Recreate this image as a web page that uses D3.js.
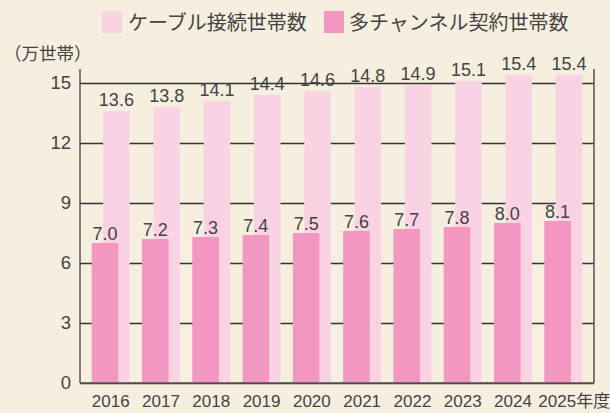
<!DOCTYPE html>
<html>
<head>
<meta charset="utf-8">
<script src="https://cdn.jsdelivr.net/npm/d3@7"></script>
<style>
  html, body { margin: 0; padding: 0; background: #f6efe0; }
  svg { display: block; font-family: "Liberation Sans", Arial, "Noto Sans CJK JP", sans-serif; }
</style>
</head>
<body>
<div id="chart"></div>
<script>
// データ（万世帯）
const years = ['2016', '2017', '2018', '2019', '2020', '2021', '2022', '2023', '2024', '2025'];
const cableHouseholds = [13.6, 13.8, 14.1, 14.4, 14.6, 14.8, 14.9, 15.1, 15.4, 15.4];
const multiChannelHouseholds = [7.0, 7.2, 7.3, 7.4, 7.5, 7.6, 7.7, 7.8, 8.0, 8.1];
const yTicks = [0, 3, 6, 9, 12, 15];
const seriesNames = ['ケーブル接続世帯数', '多チャンネル契約世帯数'];

const width = 610, height = 413;
const lightPink = '#f9d3e3', darkPink = '#f297c0';
const textColor = '#444';

const svg = d3.select('#chart').append('svg')
    .attr('width', width)
    .attr('height', height);

svg.append('rect').attr('width', width).attr('height', height).attr('fill', '#f6efe0');

const plotLeft = 80, plotRight = 594, plotBottom = 383, plotTop = 83;

const x = d3.scaleBand()
    .domain(years)
    .range([plotLeft, plotRight])
    .paddingInner(0.245)
    .paddingOuter(0.233);

const y = d3.scaleLinear()
    .domain([0, 15])
    .range([plotBottom, plotTop]);

const barW = x.bandwidth() * 0.7;
const shift = x.bandwidth() - barW;

// グリッド線と縦軸目盛
const yAxis = svg.append('g')
    .attr('transform', `translate(${plotLeft},0)`)
    .call(d3.axisLeft(y).tickValues(yTicks).tickSize(-(plotRight - plotLeft)).tickPadding(9));
yAxis.select('.domain').remove();
yAxis.selectAll('.tick line').attr('stroke', '#333').attr('stroke-width', 1.3);
yAxis.selectAll('.tick text')
    .attr('fill', textColor)
    .style('font-size', '18.5px')
    .style('font-family', '"Liberation Sans", Arial, sans-serif');

const rows = years.map((yr, i) => ({ year: yr, cable: cableHouseholds[i], multi: multiChannelHouseholds[i] }));

// ケーブル接続世帯数（後ろ）
svg.append('g').selectAll('rect')
    .data(rows)
    .enter()
    .append('rect')
    .attr('x', d => x(d.year) + shift)
    .attr('y', d => y(d.cable))
    .attr('width', barW)
    .attr('height', d => y(0) - y(d.cable))
    .attr('fill', lightPink);

// 多チャンネル契約世帯数（前）
svg.append('g').selectAll('rect')
    .data(rows)
    .enter()
    .append('rect')
    .attr('x', d => x(d.year))
    .attr('y', d => y(d.multi))
    .attr('width', barW)
    .attr('height', d => y(0) - y(d.multi))
    .attr('fill', darkPink);

// 数値ラベル
svg.append('g').selectAll('text')
    .data(rows)
    .enter()
    .append('text')
    .attr('x', d => x(d.year) + shift + barW / 2)
    .attr('y', d => y(d.cable) - 5)
    .attr('text-anchor', 'middle')
    .attr('fill', textColor)
    .style('font-size', '18px')
    .text(d => d.cable.toFixed(1));

svg.append('g').selectAll('text')
    .data(rows)
    .enter()
    .append('text')
    .attr('x', d => x(d.year) + barW / 2)
    .attr('y', d => y(d.multi) - 3)
    .attr('text-anchor', 'middle')
    .attr('fill', textColor)
    .style('font-size', '18px')
    .text(d => d.multi.toFixed(1));

// 軸線
const axisColor = '#555';
svg.append('line').attr('x1', plotLeft).attr('x2', plotLeft).attr('y1', 69).attr('y2', plotBottom)
    .attr('stroke', axisColor).attr('stroke-width', 1.5);
svg.append('line').attr('x1', plotRight).attr('x2', plotRight).attr('y1', 69).attr('y2', plotBottom)
    .attr('stroke', axisColor).attr('stroke-width', 1.5);
svg.append('line').attr('x1', plotLeft).attr('x2', plotRight).attr('y1', plotBottom).attr('y2', plotBottom)
    .attr('stroke', axisColor).attr('stroke-width', 1.5);

// 年ラベル
svg.append('g').selectAll('text')
    .data(years)
    .enter()
    .append('text')
    .attr('x', (d, i) => i === years.length - 1 ? x(d) - 6 : x(d) + x.bandwidth() / 2)
    .attr('y', 407)
    .attr('text-anchor', (d, i) => i === years.length - 1 ? 'start' : 'middle')
    .attr('fill', textColor)
    .style('font-size', '17px')
    .text((d, i) => i === years.length - 1 ? d + '年度' : d);

// 単位
svg.append('text')
    .attr('x', 4)
    .attr('y', 60)
    .attr('fill', textColor)
    .style('font-size', '17.5px')
    .style('font-family', '"Noto Sans CJK JP", sans-serif')
    .text('（万世帯）');

// 凡例
const legend = svg.append('g');
const legendItems = [
    { name: seriesNames[0], color: lightPink, sx: 102, tx: 128 },
    { name: seriesNames[1], color: darkPink, sx: 324, tx: 349 }
];
legendItems.forEach(d => {
    legend.append('rect')
        .attr('x', d.sx).attr('y', 11)
        .attr('width', 20).attr('height', 22)
        .attr('fill', d.color);
    legend.append('text')
        .attr('x', d.tx).attr('y', 30)
        .attr('fill', textColor)
        .style('font-size', '20px')
        .style('font-family', '"Noto Sans CJK JP", sans-serif')
        .text(d.name);
});
</script>
</body>
</html>
